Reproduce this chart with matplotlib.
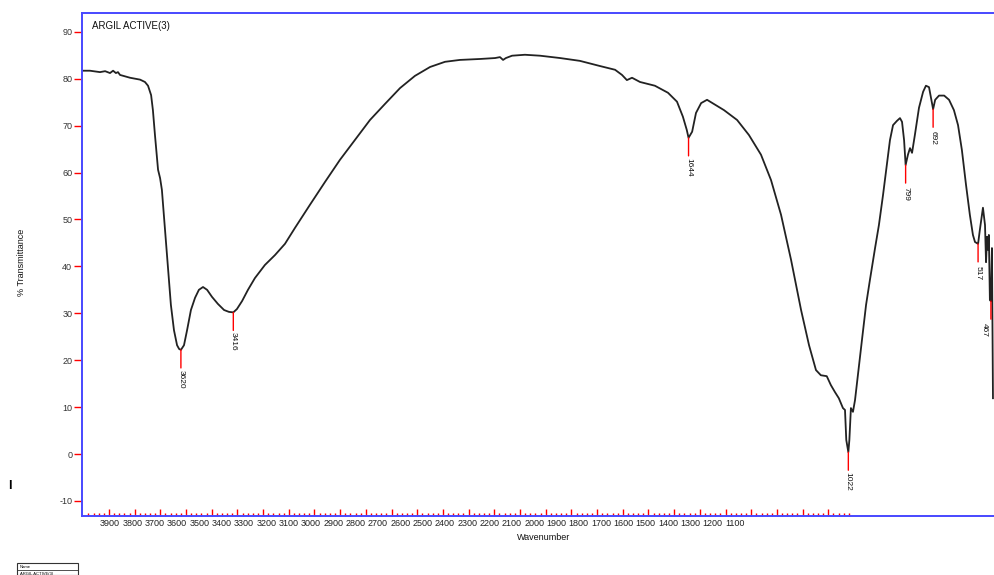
import numpy as np
import matplotlib.pyplot as plt
from matplotlib.patches import Rectangle

plt.rcParams['font.family'] = ['Liberation Sans', 'DejaVu Sans']
plt.rcParams['axes.unicode_minus'] = False

# spectre IR : nombre d'onde (cm-1) / transmittance (%)
wavenumber = [
    4005, 3974, 3935, 3915, 3896, 3884, 3873, 3865, 3857, 3838, 3818, 3779,
    3760, 3748, 3736, 3729, 3721, 3709, 3701, 3694, 3682, 3670, 3659, 3647,
    3635, 3627, 3620, 3608, 3596, 3581, 3565, 3550, 3534, 3518, 3499, 3476,
    3452, 3433, 3416, 3402, 3382, 3359, 3332, 3293, 3254, 3215, 3176, 3118,
    3059, 3001, 2942, 2884, 2826, 2767, 2709, 2650, 2592, 2534, 2456, 2397,
    2378, 2366, 2355, 2331, 2281, 2222, 2144, 2067, 1989, 1930, 1903, 1884,
    1864, 1833, 1775, 1724, 1689, 1666, 1651, 1644, 1630, 1615, 1595, 1572,
    1545, 1506, 1455, 1409, 1362, 1323, 1284, 1245, 1206, 1175, 1148, 1129,
    1106, 1090, 1074, 1059, 1043, 1035, 1030, 1022, 1018, 1012, 1004, 996,
    985, 969, 953, 938, 918, 903, 887, 872, 860, 848, 833, 821,
    813, 805, 799, 790, 782, 774, 763, 747, 731, 720, 708, 700,
    692, 684, 669, 649, 630, 611, 595, 580, 564, 549, 537, 529,
    517, 510, 498, 490, 486, 482, 478, 475, 471, 467, 463, 459,
]
transmittance = [
    81.7, 81.7, 81.4, 81.6, 81.2, 81.7, 81.2, 81.4, 80.8, 80.5, 80.2, 79.8,
    79.3, 78.5, 76.5, 73.3, 68.0, 60.6, 58.8, 56.3, 47.8, 39.2, 31.8, 26.4,
    23.2, 22.4, 22.2, 23.2, 26.4, 30.7, 33.3, 35.0, 35.6, 35.0, 33.5, 32.0,
    30.7, 30.3, 30.2, 30.9, 32.6, 35.0, 37.5, 40.3, 42.4, 44.8, 48.2, 53.1,
    58.0, 62.7, 67.0, 71.2, 74.6, 78.0, 80.6, 82.5, 83.6, 84.0, 84.2, 84.4,
    84.6, 84.0, 84.4, 84.9, 85.1, 84.9, 84.4, 83.8, 82.7, 81.9, 80.8, 79.7,
    80.2, 79.3, 78.5, 77.0, 75.1, 71.9, 69.1, 67.4, 68.7, 72.7, 74.8, 75.5,
    74.6, 73.3, 71.2, 68.0, 63.8, 58.4, 51.0, 41.4, 30.7, 23.2, 17.9, 16.8,
    16.6, 14.7, 13.2, 11.9, 9.8, 9.4, 3.0, 0.4, 3.0, 9.8, 9.0, 11.5,
    16.8, 24.3, 31.8, 37.1, 43.9, 48.8, 55.2, 61.6, 66.9, 70.1, 71.0, 71.6,
    70.8, 66.9, 61.6, 63.8, 65.2, 64.2, 68.0, 73.8, 77.2, 78.5, 78.2, 75.9,
    73.5, 75.5, 76.4, 76.4, 75.5, 73.3, 70.1, 64.8, 57.4, 51.0, 46.7, 45.2,
    44.8, 47.8, 52.5, 48.8, 40.9, 46.3, 43.5, 46.7, 32.8, 32.6, 43.9, 11.9,
]

# pics repérés
peaks = [3620, 3416, 1644, 1022, 799, 692, 517, 467]

# graduations affichées sous l'axe
tick_labels = list(range(3900, 1000, -100))

blue = '#4848ff'

fig = plt.figure(figsize=(9.94, 5.75), dpi=100)
ax = fig.add_axes([82 / 994, 59 / 575, 912 / 994, 503 / 575])

w = np.array(wavenumber)
t = np.array(transmittance)
ax.plot(w, t, color='#222222', lw=1.3)

ax.set_xlim(4005, 455)
ax.set_ylim(-13.2, 94)

for s in ['left', 'top', 'bottom']:
    ax.spines[s].set_color(blue)
    ax.spines[s].set_linewidth(1.4)
ax.spines['right'].set_visible(False)

# axe y : graduations rouges vers l'extérieur
ax.set_yticks(range(-10, 91, 10))
ax.tick_params(axis='y', direction='out', length=6, width=1, color='red',
               labelsize=6.5, labelcolor='#333333', pad=1)

# axe x : graduations rouges vers l'intérieur, sans étiquettes
ax.set_xticks(range(3900, 1000, -100))
ax.set_xticks(range(3980, 1000, -20), minor=True)
ax.tick_params(axis='x', which='major', direction='in', length=5, width=1,
               color='red', labelbottom=False)
ax.tick_params(axis='x', which='minor', direction='in', length=2.5, width=1,
               color='red')

# étiquettes de l'axe x sur une échelle à part
ax2 = ax.twiny()
ax2.set_xlim(4025.4, -60.4)
ax2.xaxis.set_ticks_position('bottom')
ax2.set_xticks(tick_labels)
ax2.set_xticklabels([str(v) for v in tick_labels])
ax2.tick_params(axis='x', length=0, labelsize=6.5, pad=2, labelcolor='#222222')
for s in ax2.spines.values():
    s.set_visible(False)

# repères des pics
for p in peaks:
    y = np.interp(p, w[::-1], t[::-1])
    ax.annotate('', xy=(p, y), xytext=(0, -13), textcoords='offset points',
                arrowprops=dict(arrowstyle='-', color='red', lw=1,
                                shrinkA=0, shrinkB=0))
    dx = -4.5 if p == 467 else 0
    ax.annotate(str(p), xy=(p, y), xytext=(dx, -21), textcoords='offset points',
                rotation=270, ha='center', va='center', fontsize=6,
                color='#111111')

ax.text(0.011, 0.975, 'ARGIL ACTIVE(3)', transform=ax.transAxes,
        fontsize=7, va='center', ha='left', color='#111111')

fig.text(22 / 994, 1 - 262 / 575, '% Transmittance', rotation=90,
         fontsize=6.5, ha='center', va='center', color='#111111')
fig.text(544 / 994, 1 - 538 / 575, 'Wavenumber', fontsize=6.5,
         ha='center', va='center', color='#111111')
fig.text(10 / 994, 1 - 486 / 575, 'I', fontsize=9, fontweight='bold',
         ha='center', va='center')

# petit tableau en bas à gauche
fig.patches.append(Rectangle((17 / 994, 0), 61 / 994, 12 / 575,
                             transform=fig.transFigure, fill=False,
                             edgecolor='#333333', lw=0.8))
fig.lines.append(plt.Line2D([17 / 994, 78 / 994], [5 / 575, 5 / 575],
                            transform=fig.transFigure, color='#333333', lw=0.6))
fig.text(20 / 994, 1 - 567 / 575, 'Name', fontsize=3, va='center')
fig.text(20 / 994, 1 - 573.5 / 575, 'ARGIL ACTIVE(3)', fontsize=3, va='center')

fig.savefig('out.png', dpi=100)
